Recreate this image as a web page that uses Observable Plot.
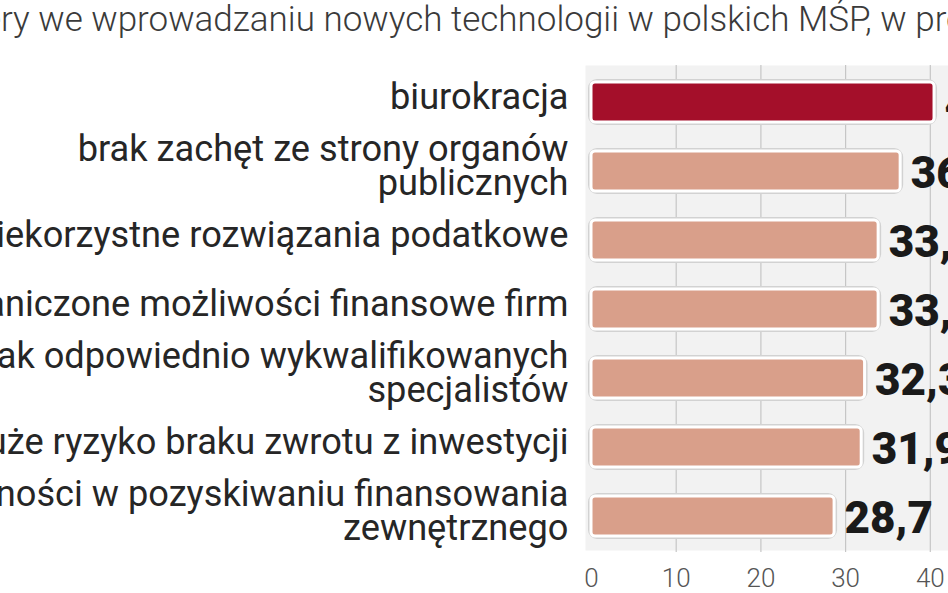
<!DOCTYPE html>
<html>
<head>
<meta charset="utf-8">
<script src="https://cdn.jsdelivr.net/npm/d3@7"></script>
<script src="https://cdn.jsdelivr.net/npm/@observablehq/plot@0.6"></script>
<style>
  html, body { margin: 0; padding: 0; background: #ffffff; overflow: hidden; width: 948px; height: 593px; }
  #title { height: 50px; line-height: 40px; font-family: Roboto, sans-serif; font-weight: 300; font-size: 35px; color: #3a3a3a; white-space: nowrap; }
  #chart { margin-left: -220px; }
</style>
</head>
<body>
<div id="title"><span id="pre">Barie</span>ry we wprowadzaniu nowych technologii w polskich MŚP, w procentach</div>
<div id="chart"></div>
<script>
const categories = [
  "biurokracja",
  "brak zachęt ze strony organów\npublicznych",
  "niekorzystne rozwiązania podatkowe",
  "ograniczone możliwości finansowe firm",
  "brak odpowiednio wykwalifikowanych\nspecjalistów",
  "duże ryzyko braku zwrotu z inwestycji",
  "trudności w pozyskiwaniu finansowania\nzewnętrznego"
];
const values = [40.5, 36.5, 33.9, 33.9, 32.3, 31.9, 28.7];
const highlighted = [true, false, false, false, false, false, false];
const xTicks = [0, 10, 20, 30, 40, 50];

const data = categories.map((c, i) => ({
  name: c,
  value: values[i],
  label: values[i].toFixed(1).replace(".", ","),
  hi: highlighted[i]
}));

// shift title so that the visible part begins at the left edge
const pre = document.getElementById("pre");
document.getElementById("title").style.marginLeft = (1 - pre.getBoundingClientRect().width) + "px";

const RED = "#a40f2a", SALMON = "#d99f8a";

const chart = Plot.plot({
  width: 1255,
  height: 543,
  marginLeft: 811,
  marginRight: 20.5,
  marginTop: 15,
  marginBottom: 39,
  style: { maxWidth: "none", overflow: "visible", background: "transparent", fontFamily: "Roboto, sans-serif" },
  x: { domain: [0, 50] },
  y: { domain: categories, axis: null, paddingInner: 0.42, paddingOuter: 0.238 },
  marks: [
    Plot.frame({ fill: "#f2f2f2", stroke: null, insetLeft: -6, insetBottom: 4 }),
    Plot.gridX(xTicks.slice(1), { stroke: "#c6c6c6", strokeOpacity: 1, strokeWidth: 1.2, insetBottom: 2 }),
    Plot.barX(data, { x: "value", y: "name", fill: "none", stroke: "#d2d2d2", strokeWidth: 6, rx: 6 }),
    Plot.barX(data, { x: "value", y: "name", fill: d => d.hi ? RED : SALMON, stroke: "#ffffff", strokeWidth: 3, rx: 4 }),
    Plot.text(data, { x: "value", y: "name", text: "label", textAnchor: "start", dx: 10, dy: 2, fontSize: 44, fontWeight: 900, fill: "#1a1a1a", letterSpacing: -2.2 }),
    Plot.text(data, { x: 0, y: "name", text: "name", textAnchor: "end", dx: -23, dy: -4, fontSize: 36.2, lineHeight: 0.93, fill: "#262626", fontWeight: 400 }),
    Plot.axisX(xTicks, { tickSize: 0, tickPadding: 13.7, fontSize: 26, fill: "#555555", fontWeight: 300, label: null })
  ]
});
document.getElementById("chart").appendChild(chart);
</script>
</body>
</html>
